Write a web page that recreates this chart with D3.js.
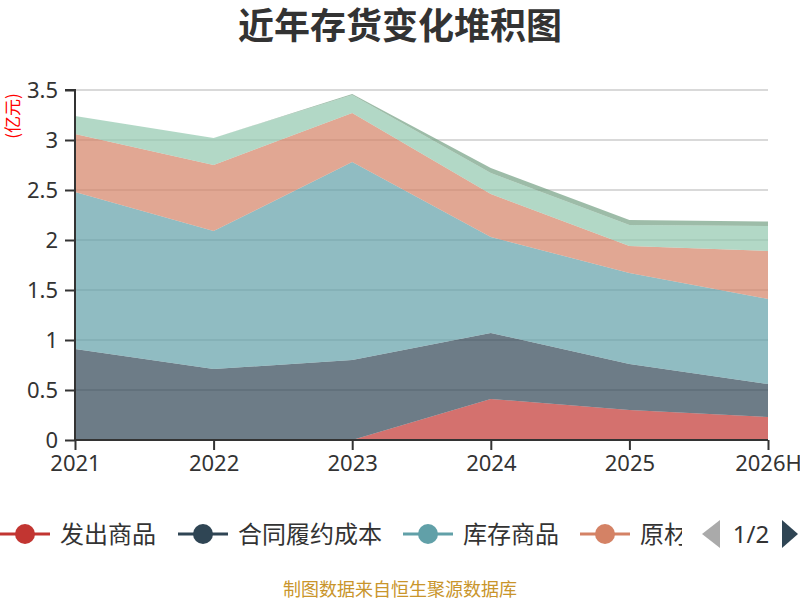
<!DOCTYPE html>
<html><head><meta charset="utf-8">
<script src="https://cdn.jsdelivr.net/npm/d3@7/dist/d3.min.js"></script>
<style>body{margin:0;background:#fff}svg{display:block;font-family:"Noto Sans CJK SC","Noto Sans",sans-serif}</style>
</head><body><svg id="c" width="800" height="600"></svg>
<script>
const categories = ["2021","2022","2023","2024","2025","2026H"];
const seriesNames = ["发出商品","合同履约成本","库存商品","原材料","在产品","周转材料"];
const seriesColors = ["#c23531","#2f4554","#61a0a8","#d48265","#91c7ae","#749f83"];
const s发出商品 = [0, 0, 0, 0.41, 0.30, 0.23];
const s合同履约成本 = [0.91, 0.71, 0.80, 0.66, 0.46, 0.33];
const s库存商品 = [1.57, 1.38, 1.98, 0.96, 0.91, 0.85];
const s原材料 = [0.58, 0.66, 0.49, 0.43, 0.27, 0.48];
const s在产品 = [0.18, 0.27, 0.18, 0.21, 0.21, 0.25];
const s周转材料 = [0, 0, 0.01, 0.05, 0.05, 0.045];
const yTicks = [0, 0.5, 1, 1.5, 2, 2.5, 3, 3.5];
const legendShown = 4;

const allSeries = [s发出商品, s合同履约成本, s库存商品, s原材料, s在产品, s周转材料];
const table = categories.map((c, i) => {
  const row = {cat: c};
  seriesNames.forEach((n, k) => row[n] = allSeries[k][i]);
  return row;
});

const svg = d3.select("#c");
const L = 75, R = 768, T = 90, B = 440;
const x = d3.scalePoint().domain(categories).range([L, R]);
const y = d3.scaleLinear().domain([0, 3.5]).range([B, T]);

// title
svg.append("text").attr("x", 400).attr("y", 39).attr("text-anchor", "middle")
  .attr("font-size", 36).attr("font-weight", "bold").attr("fill", "#333").text("近年存货变化堆积图");

// grid
svg.append("g").selectAll("line").data(yTicks.filter(d => d > 0)).join("line")
  .attr("x1", L).attr("x2", R).attr("y1", d => y(d)).attr("y2", d => y(d))
  .attr("stroke", "#ccc").attr("stroke-width", 1.5);

// stacked areas
const stack = d3.stack().keys(seriesNames);
const layers = stack(table);
const area = d3.area().x(d => x(d.data.cat)).y0(d => y(d[0])).y1(d => y(d[1]));
svg.append("g").selectAll("path").data(layers).join("path")
  .attr("d", area).attr("fill", (d, i) => seriesColors[i]).attr("fill-opacity", 0.7);

// axes
const yAxis = d3.axisLeft(y).tickValues(yTicks).tickSize(10).tickPadding(7).tickFormat(d3.format("~g"));
const gy = svg.append("g").attr("transform", `translate(${L},0)`).call(yAxis);
gy.select(".domain").attr("stroke", "#333").attr("stroke-width", 2).attr("d", `M-10,${T}H0V${B}`);
gy.selectAll(".tick line").attr("stroke", "#333").attr("stroke-width", 2);
gy.selectAll(".tick text").attr("font-size", 22).attr("fill", "#333")
  .attr("font-family", "'Noto Sans','Open Sans',sans-serif");

const xAxis = d3.axisBottom(x).tickSize(10).tickPadding(5);
const gx = svg.append("g").attr("transform", `translate(0,${B})`).call(xAxis);
gx.select(".domain").attr("stroke", "#333").attr("stroke-width", 2).attr("d", `M${L},0H${R}`);
gx.selectAll(".tick line").attr("stroke", "#333").attr("stroke-width", 2);
gx.selectAll(".tick text").attr("font-size", 22).attr("fill", "#333")
  .attr("font-family", "'Noto Sans','Open Sans',sans-serif");

// unit label
svg.append("text").attr("transform", "translate(19,116) rotate(-90)").attr("text-anchor", "middle")
  .attr("font-size", 17).attr("fill", "red").text("(亿元)");

// legend
svg.append("clipPath").attr("id", "lc").append("rect").attr("x", 0).attr("y", 505).attr("width", 682).attr("height", 60);
const lg = svg.append("g").attr("clip-path", "url(#lc)");
const legendX = [0, 178, 403, 580];
seriesNames.slice(0, legendShown).forEach((n, i) => {
  const g = lg.append("g").attr("transform", `translate(${legendX[i]},534)`);
  g.append("line").attr("x1", 0).attr("x2", 50).attr("stroke", seriesColors[i]).attr("stroke-width", 3);
  g.append("circle").attr("cx", 25).attr("r", 10).attr("fill", seriesColors[i]);
  g.append("text").attr("x", 60).attr("dy", "0.36em").attr("font-size", 24).attr("fill", "#333").text(n);
});
svg.append("path").attr("d", "M702,534L720,520L720,548Z").attr("fill", "#aaa");
svg.append("path").attr("d", "M782,520L798,534L782,548Z").attr("fill", "#2f4554");
svg.append("text").attr("x", 751).attr("y", 534).attr("dy", "0.36em").attr("text-anchor", "middle")
  .attr("font-size", 24).attr("fill", "#333").attr("font-family", "'Noto Sans',sans-serif").text("1/2");

// footer
svg.append("text").attr("x", 400).attr("y", 590).attr("dy", "0.36em").attr("text-anchor", "middle")
  .attr("font-size", 18).attr("fill", "#c9952b").text("制图数据来自恒生聚源数据库");
</script></body></html>
